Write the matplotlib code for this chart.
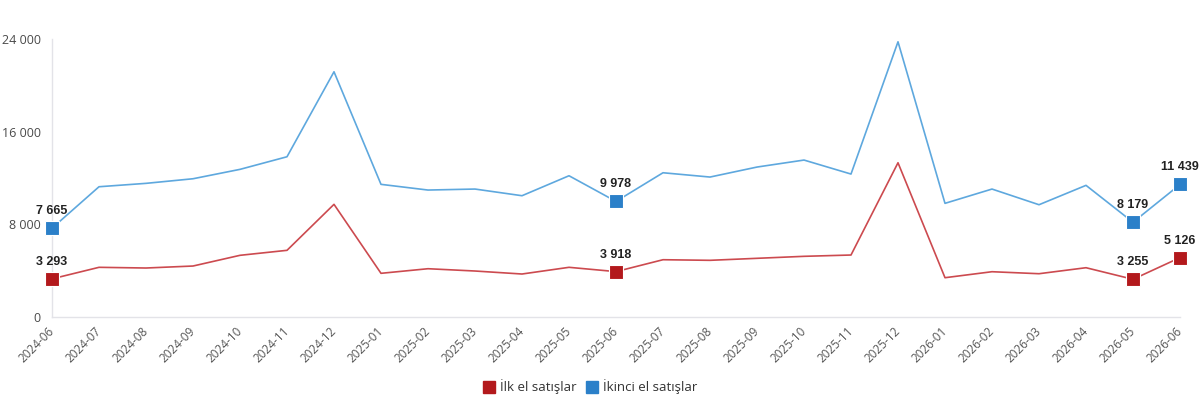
import matplotlib
matplotlib.use("Agg")
import matplotlib.pyplot as plt
from matplotlib.lines import Line2D

months = ["2024-06", "2024-07", "2024-08", "2024-09", "2024-10", "2024-11", "2024-12",
          "2025-01", "2025-02", "2025-03", "2025-04", "2025-05", "2025-06", "2025-07",
          "2025-08", "2025-09", "2025-10", "2025-11", "2025-12", "2026-01", "2026-02",
          "2026-03", "2026-04", "2026-05", "2026-06"]
ilk_el = [3293, 4289, 4229, 4401, 5325, 5756, 9726, 3771, 4168, 3970, 3711, 4289, 3918,
          4945, 4893, 5066, 5238, 5351, 13316, 3392, 3909, 3737, 4255, 3255, 5126]
ikinci_el = [7665, 11245, 11538, 11935, 12746, 13834, 21170, 11452, 10960, 11046, 10470,
             12194, 9978, 12453, 12082, 12945, 13549, 12341, 23759, 9812, 11046, 9692,
             11365, 8179, 11439]
marked_idx = [0, 12, 23, 24]
series_names = ["İlk el satışlar", "İkinci el satışlar"]
yticks = [0, 8000, 16000, 24000]

def fmt(v):
    return f"{v:,}".replace(",", " ")

line_colors = ["#cc4a4f", "#5ea8de"]
marker_colors = ["#b3191c", "#2b80c9"]

fig = plt.figure(figsize=(12, 4.03), dpi=100)
ax = fig.add_axes([52/1200, 1-317/403, (1180-52)/1200, (317-39)/403])
x = list(range(len(months)))

for vals, lc, mc in [(ilk_el, line_colors[0], marker_colors[0]),
                     (ikinci_el, line_colors[1], marker_colors[1])]:
    ax.plot(x, vals, color=lc, lw=1.2, zorder=2)
    mx = [x[i] for i in marked_idx]
    my = [vals[i] for i in marked_idx]
    ax.plot(mx, my, ls="none", marker="s", markersize=10, color=mc,
            markeredgecolor="white", markeredgewidth=0.8, zorder=3, clip_on=False)
    for i in marked_idx:
        ax.annotate(fmt(vals[i]), (x[i], vals[i]), xytext=(0, 8), textcoords="offset points",
                    ha="center", va="bottom", fontsize=9, fontweight="bold",
                    color="#222222", family="Liberation Sans")

ax.set_xlim(0, len(months) - 1)
ax.set_ylim(0, 24000)
ax.set_yticks(yticks)
ax.set_yticklabels([fmt(v) for v in yticks], fontsize=9, color="#4a4a4a", family="Open Sans")
ax.set_xticks(x)
ax.set_xticklabels(months, rotation=45, ha="right", va="center", rotation_mode="anchor",
                   fontsize=8.5, color="#555555", family="Open Sans")
ax.tick_params(axis="both", length=0, pad=8)
ax.tick_params(axis="x", pad=9)
for s in ["top", "right"]:
    ax.spines[s].set_visible(False)
for s in ["left", "bottom"]:
    ax.spines[s].set_color("#e3e3e8")
    ax.spines[s].set_linewidth(1)

handles = [Line2D([], [], ls="none", marker="s", markersize=8.6, color=c) for c in marker_colors]
fig.legend(handles, series_names, loc="center", bbox_to_anchor=(590/1200, 1-387/403), ncol=2,
           frameon=False, prop={"family": "Open Sans", "size": 9.5}, handletextpad=0.38,
           handlelength=0.9, columnspacing=0.7, labelcolor="#333333")

fig.savefig("out.png", dpi=100, facecolor="white")
